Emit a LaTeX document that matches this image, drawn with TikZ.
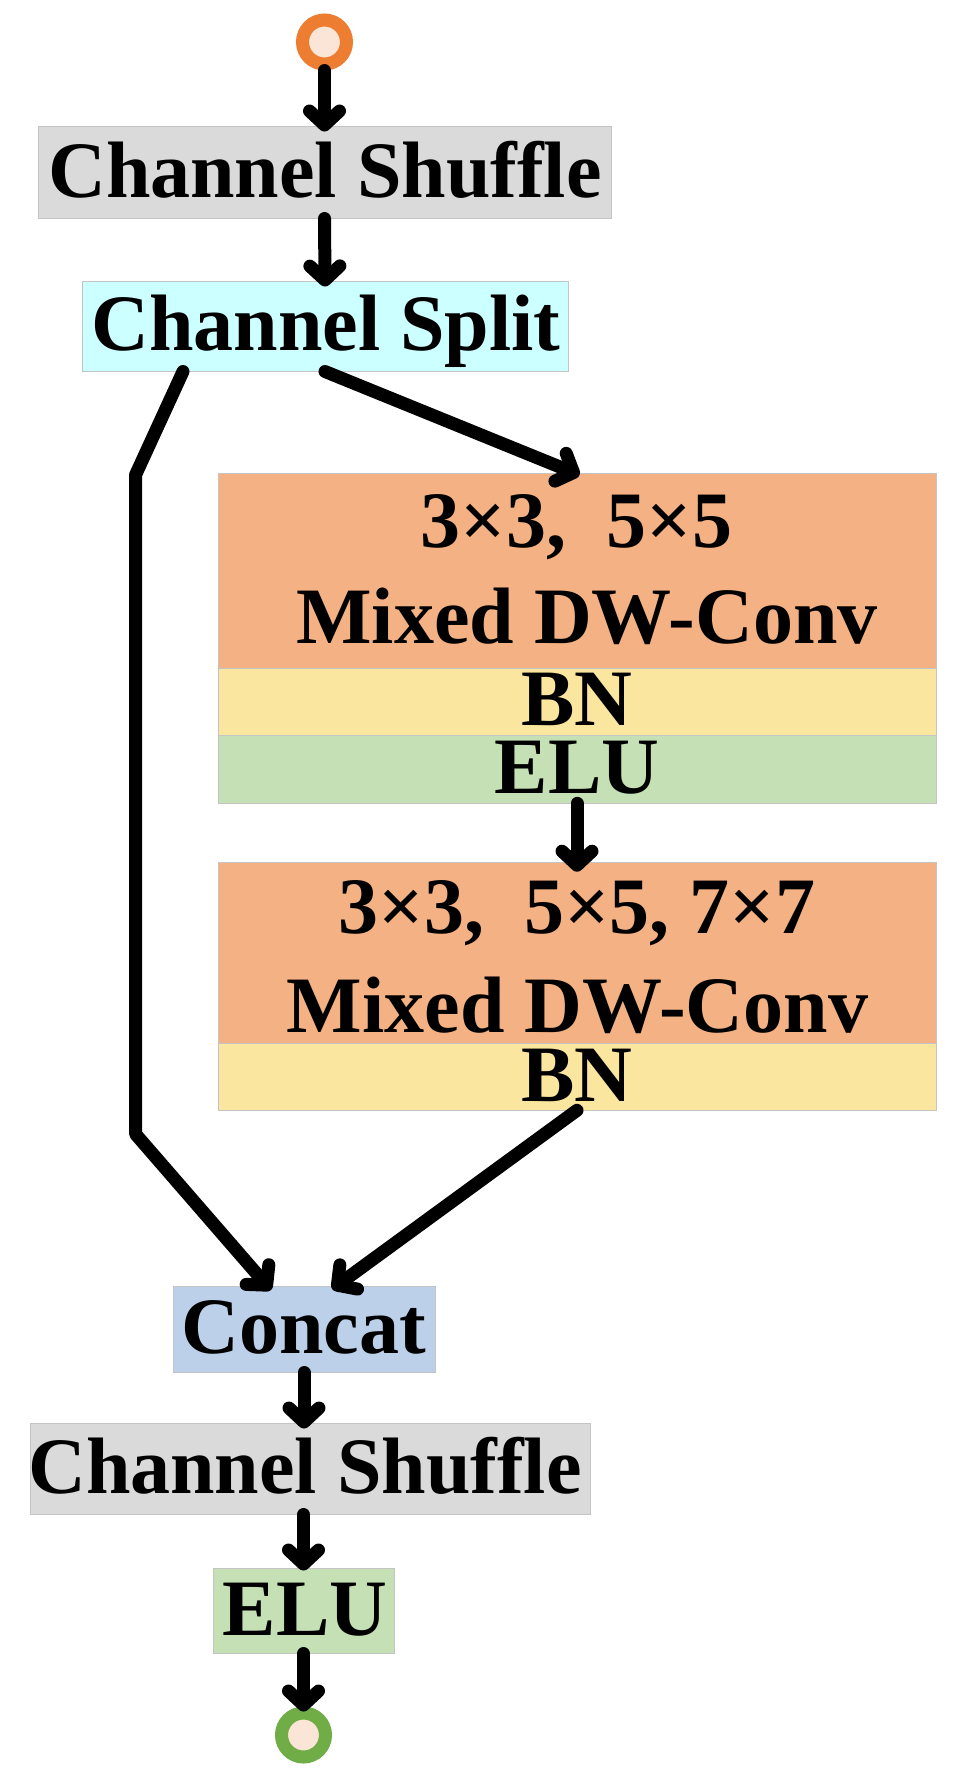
\documentclass[tikz,border=0pt]{standalone}
\usepackage{fontspec}
\setmainfont{Liberation Serif}
\usetikzlibrary{arrows.meta}
\definecolor{grayfill}{HTML}{DADADA}
\definecolor{cyanfill}{HTML}{CCFFFF}
\definecolor{orangefill}{HTML}{F4B183}
\definecolor{yellowfill}{HTML}{FAE69E}
\definecolor{greenfill}{HTML}{C5E0B4}
\definecolor{bluefill}{HTML}{BDD0E9}
\definecolor{boxline}{HTML}{C4C4C4}
\definecolor{ringorange}{HTML}{ED7D31}
\definecolor{ringgreen}{HTML}{70AD47}
\definecolor{peach}{HTML}{FBE5D6}
\begin{document}
\begin{tikzpicture}[x=1pt,y=-1pt,
  box/.style={draw=boxline, line width=1pt, inner sep=0pt, rectangle},
  band/.style={draw=boxline, line width=0.6pt, inner sep=0pt, rectangle},
  lbl/.style={anchor=base, inner sep=0pt, font=\fontsize{80}{90}\selectfont\bfseries},
  ring/.style={circle, line width=13pt, minimum size=44pt, inner sep=0pt, fill=peach},
  arr/.style={line width=13pt, line cap=round, line join=round,
    -{Straight Barb[length=14pt,width=30pt,round]}, shorten >=-6pt}]
\useasboundingbox (0,0) rectangle (958,1781);
\fill[white] (0,0) rectangle (958,1781);

% input / output rings
\node[ring, draw=ringorange] (cin) at (324.5,42) {};
\node[ring, draw=ringgreen] (cout) at (303.5,1735) {};

% boxes
\node[box, fill=grayfill, minimum width=573pt, minimum height=92pt] (cs1) at (324.5,172) {};
\node[box, fill=cyanfill, minimum width=486pt, minimum height=90pt] (split) at (325,326) {};

\node[band, fill=orangefill, minimum width=718pt, minimum height=195pt] (conv1) at (577,570.5) {};
\node[band, fill=yellowfill, minimum width=718pt, minimum height=67pt] (bn1) at (577,701.5) {};
\node[band, fill=greenfill, minimum width=718pt, minimum height=68pt] (elu1) at (577,769) {};

\node[band, fill=orangefill, minimum width=718pt, minimum height=181pt] (conv2) at (577,952.5) {};
\node[band, fill=yellowfill, minimum width=718pt, minimum height=67pt] (bn2) at (577,1076.5) {};

\node[box, fill=bluefill, minimum width=262pt, minimum height=86pt] (concat) at (304,1329) {};
\node[box, fill=grayfill, minimum width=560pt, minimum height=91pt] (cs2) at (310,1468.5) {};
\node[box, fill=greenfill, minimum width=181pt, minimum height=85pt] (elu2) at (303.5,1610.5) {};

% labels
\node[lbl] (tcs1) at (325,197) {Channel Shuffle};
\node[lbl] (tsplit) at (326,350) {Channel Split};
\node[lbl] (tk1) at (576.5,547) {3×3,\ \ 5×5};
\node[lbl] (tm1) at (587,643) {Mixed DW-Conv};
\node[lbl] (tbn1) at (577,725) {BN};
\node[lbl] (telu1) at (577,793) {ELU};
\node[lbl] (tk2) at (577,933) {3×3,\ \ 5×5, 7×7};
\node[lbl] (tm2) at (577.5,1032) {Mixed DW-Conv};
\node[lbl] (tbn2) at (577,1101) {BN};
\node[lbl] (tconcat) at (303.5,1353) {Concat};
\node[lbl] (tcs2) at (305,1493) {Channel Shuffle};
\node[lbl] (telu2) at (305,1635) {ELU};

% bend points of the shortcut branch
\coordinate (k1) at (135.5,475);
\coordinate (k2) at (135.5,1134);

% connectors
\draw[arr] (cin.south) -- (cs1.north);
\draw[arr] (cs1.south) -- (split.north);
\draw[arr] ([xshift=-142pt]split.south) -- (k1) -- (k2) -- ([xshift=-37pt]concat.north);
\draw[arr] (split.south) -- ([xshift=-3pt]conv1.north);
\draw[arr, shorten >=-10pt] (elu1.south) -- (conv2.north);
\draw[arr] (bn2.south) -- ([xshift=33pt]concat.north);
\draw[arr] (concat.south) -- (concat.south |- cs2.north);
\draw[arr, shorten >=-3pt] (cs2.south -| elu2.north) -- (elu2.north);
\draw[arr, shorten >=-5pt] (elu2.south) -- (cout.north);
\end{tikzpicture}
\end{document}
